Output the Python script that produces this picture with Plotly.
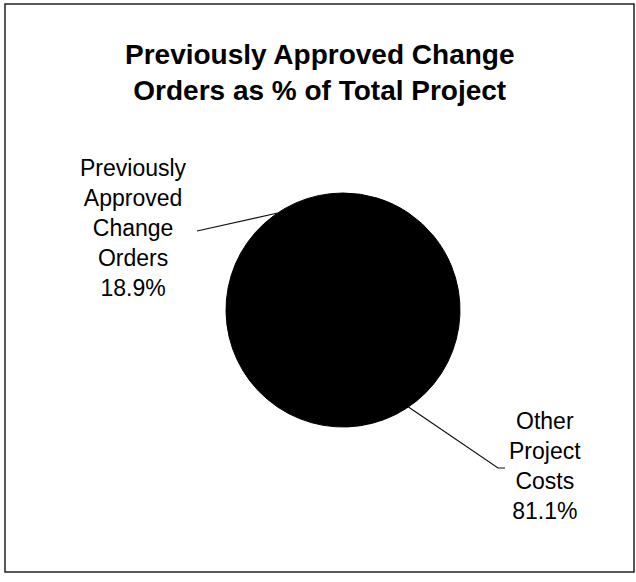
import math
import plotly.graph_objects as go

# ---- data ----
categories = ["Previously Approved Change Orders", "Other Project Costs"]
values = [18.9, 81.1]
label_texts = ["Previously<br>Approved<br>Change<br>Orders", "Other<br>Project<br>Costs"]
title_text = "Previously Approved Change<br>Orders as % of Total Project"

W, H = 636, 582
# pie geometry (pixels)
cx, cy, r = 343, 310, 117

def px(x):
    return x / W

def py(y):
    return (H - y) / H

fig = go.Figure()
fig.add_trace(go.Pie(
    labels=categories,
    values=values,
    sort=False,
    direction="counterclockwise",
    rotation=0,
    marker=dict(colors=["#000000", "#000000"], line=dict(color="#000000", width=1)),
    textinfo="none",
    hoverinfo="label+percent",
    showlegend=False,
    domain=dict(x=[px(cx - r), px(cx + r)], y=[py(cy + r), py(cy - r)]),
))

# label positions (pixels) and leader-line ends
label_pos = [(133, 228), (545, 466)]
leader_end = [[(197, 231)], [(498, 468), (505, 468)]]

total = sum(values)
start = 90.0
shapes = []
annotations = []
for i, v in enumerate(values):
    frac = v / total
    mid = start + frac * 360 / 2
    start += frac * 360
    ex = cx + r * math.cos(math.radians(mid))
    ey = cy - r * math.sin(math.radians(mid))
    pts = [(ex, ey)] + leader_end[i]
    path = "M " + " L ".join(f"{px(x)},{py(y)}" for x, y in pts)
    shapes.append(dict(type="path", xref="paper", yref="paper", path=path,
                       line=dict(color="#111111", width=1.2)))
    pct = f"{v:.1f}%"
    annotations.append(dict(
        x=px(label_pos[i][0]), y=py(label_pos[i][1]), xref="paper", yref="paper",
        text=f"{label_texts[i]}<br>{pct}", showarrow=False, align="center",
        xanchor="center", yanchor="middle",
        font=dict(family="Liberation Sans, Arial, sans-serif", size=23, color="#000000"),
    ))

annotations.append(dict(
    x=px(320), y=py(72), xref="paper", yref="paper", text=f"<b>{title_text}</b>",
    showarrow=False, align="center", xanchor="center", yanchor="middle",
    font=dict(family="Liberation Sans, Arial, sans-serif", size=28, color="#000000"),
))

# outer border
shapes.append(dict(type="rect", xref="paper", yref="paper",
                   x0=px(5), x1=px(634), y0=py(572), y1=py(4),
                   line=dict(color="#222222", width=1.5)))

fig.update_layout(
    width=W, height=H,
    margin=dict(l=0, r=0, t=0, b=0),
    paper_bgcolor="white", plot_bgcolor="white",
    shapes=shapes, annotations=annotations,
    xaxis=dict(visible=False), yaxis=dict(visible=False),
)

fig.write_html("out.html",
               config={"displayModeBar": False},
               post_script="document.body.style.margin='0';document.body.style.overflow='hidden';")
